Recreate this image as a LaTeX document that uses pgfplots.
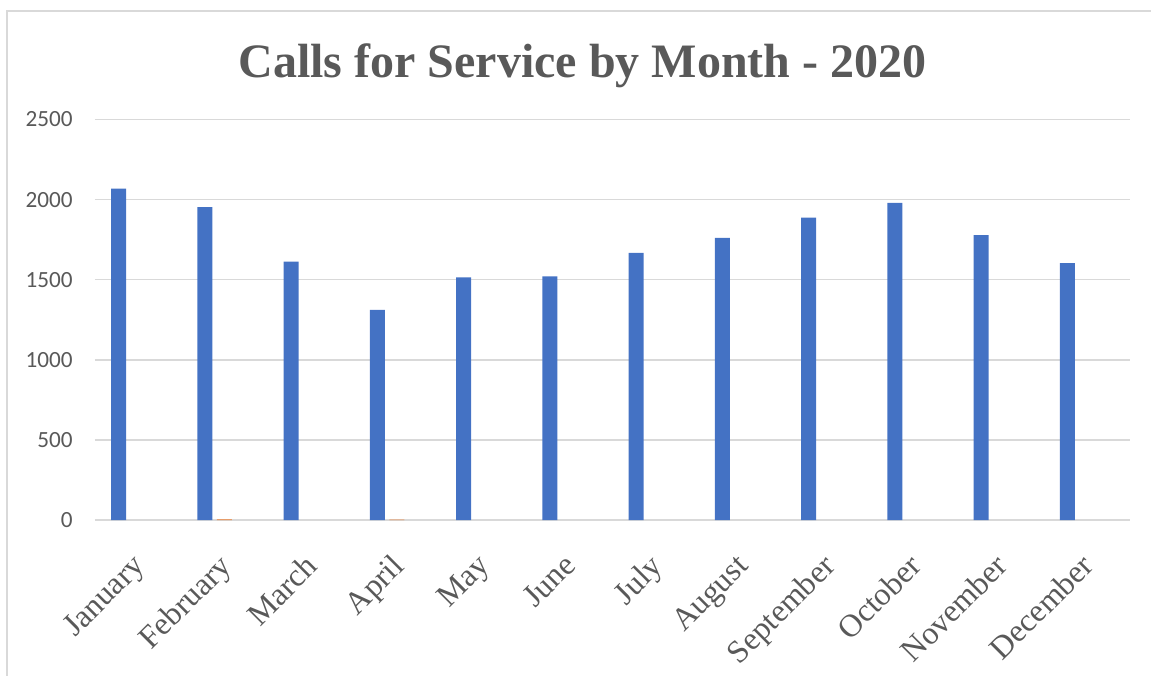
\documentclass[border=0pt]{standalone}
\usepackage{fontspec}
\setmainfont{Liberation Serif}
\newfontfamily\calibri{Carlito}
\usepackage{pgfplots}
\pgfplotsset{compat=1.18}
\definecolor{barblue}{HTML}{4472C4}
\definecolor{barorange}{HTML}{ED7D31}
\definecolor{gridgray}{HTML}{D9D9D9}
\definecolor{inkgray}{HTML}{595959}

\begin{document}
\begin{tikzpicture}
\useasboundingbox (-47.5pt,-77.5pt) rectangle (528pt,260pt);
\draw[gridgray, line width=1pt] (-44pt,-80pt) -- (-44pt,254.5pt) -- (530pt,254.5pt);
\begin{axis}[
  scale only axis,
  width=517.5pt, height=200.25pt,
  ybar, bar width=7.5pt,
  ymin=0, ymax=2500, ytick={0,500,...,2500},
  xmin=-0.5, xmax=11.5, xtick={0,...,11},
  xticklabels={January,February,March,April,May,June,July,August,September,October,November,December},
  axis line style={draw=none},
  tick style={draw=none},
  ymajorgrids, grid style={gridgray, line width=0.75pt},
  /pgf/number format/assume math mode=true,
  /pgf/number format/1000 sep={},
  yticklabel style={font=\calibri\fontsize{11.6}{13}\selectfont, text=inkgray, xshift=-7.6pt},
  xticklabel style={rotate=45, anchor=north east, font=\fontsize{16}{18}\selectfont, text=inkgray, xshift=-7.5pt, yshift=-2.5pt},
  every axis plot/.append style={draw=none},
]
% calls per month
\addplot+[fill=barblue, bar shift=-9.7pt] coordinates {
  (0,2069) (1,1953) (2,1613) (3,1311) (4,1515) (5,1520)
  (6,1667) (7,1761) (8,1888) (9,1980) (10,1778) (11,1603)
};
% near-zero second series
\addplot+[fill=barorange, bar shift=0pt] coordinates {(1,4) (3,3)};
\end{axis}
\node[font=\bfseries\fontsize{24}{28}\selectfont, text=inkgray, anchor=base] at (243.75pt,221pt) {Calls for Service by Month - 2020};
\end{tikzpicture}
\end{document}
